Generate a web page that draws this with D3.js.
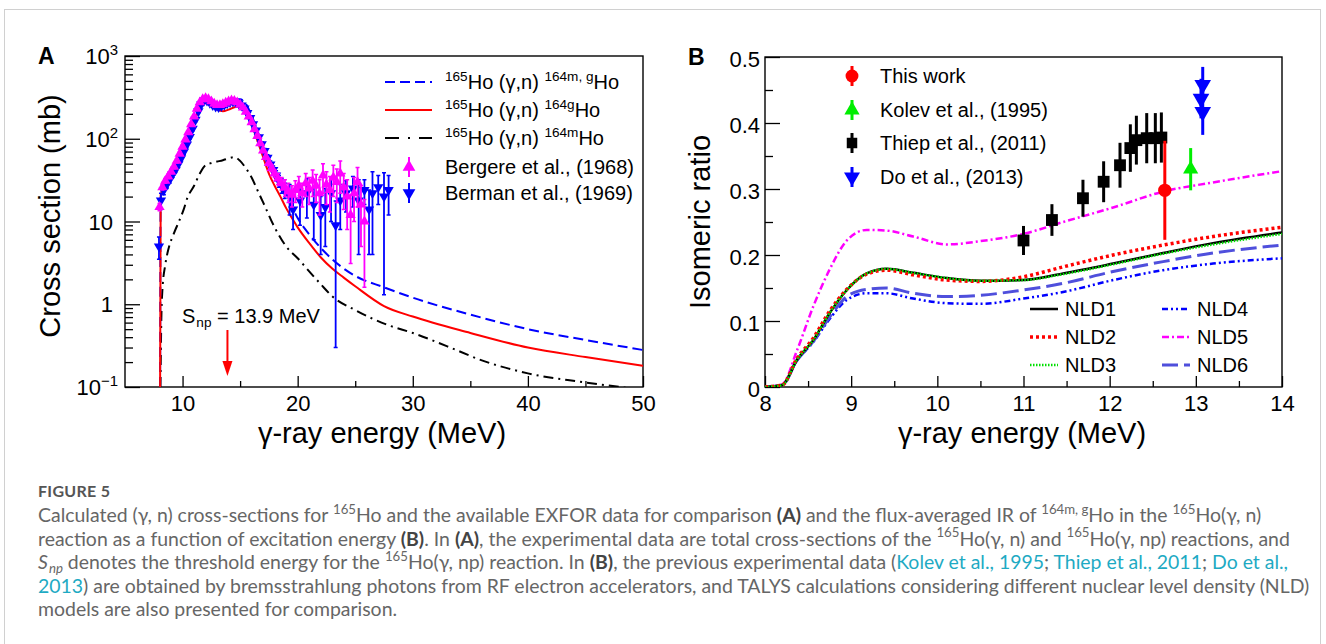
<!DOCTYPE html>
<html>
<head>
<meta charset="utf-8">
<script src="https://cdn.jsdelivr.net/npm/d3@7"></script>
<style>
body { margin: 0; background: #fff; }
svg { display: block; }
</style>
</head>
<body>
<div id="chart"></div>
<script>
// ---------- panel A: calculated cross sections (mb) ----------
var calcE = [8.05, 8.1, 8.5, 9, 9.5, 10, 10.5, 11, 11.5, 12, 12.5, 13, 13.5, 14, 14.5, 15, 15.5, 16, 16.5, 17, 17.5, 18, 18.5, 19, 19.5, 20, 21, 22, 23, 24, 25, 27.5, 30, 35, 40, 45, 50];
var xsTotal = [0.1, 22, 29, 40, 52, 80, 120, 185, 270, 315, 295, 270, 268, 285, 300, 300, 265, 190, 125, 80, 53, 37, 27, 20, 15, 11, 7.0, 4.8, 3.5, 2.7, 2.2, 1.6, 1.2, 0.75, 0.5, 0.37, 0.28];
var xsGround = [0.1, 21, 27, 34, 45, 68, 104, 160, 235, 270, 250, 225, 215, 225, 240, 245, 215, 150, 95, 60, 38, 27, 20, 14.5, 11, 8.5, 5.5, 3.7, 2.7, 2.1, 1.65, 0.95, 0.71, 0.45, 0.30, 0.23, 0.18];
var metaE = [8.08, 8.15, 8.25, 8.5, 8.8, 9.25, 9.75, 10.1, 10.4, 11, 11.5, 12, 12.5, 13, 13.5, 14, 14.5, 15, 15.5, 16, 16.5, 17, 18, 19, 20, 21, 22, 23, 25, 28, 30, 33, 36, 40, 44.5, 48, 50];
var xsMeta = [0.1, 0.6, 1.5, 3.0, 4.8, 7.2, 10.5, 14, 19, 27, 38, 48, 51, 53, 55, 58, 60, 54, 44, 34, 24, 17, 8.5, 5.0, 3.6, 2.5, 1.75, 1.25, 0.85, 0.55, 0.45, 0.31, 0.21, 0.146, 0.116, 0.1, 0.092];

// Bergere et al. (1968)
var bergE = [8.0, 8.25, 8.5, 8.75, 9.0, 9.25, 9.5, 9.75, 10.0, 10.25, 10.5, 10.75, 11.0, 11.25, 11.5, 11.75, 12.0, 12.25, 12.5, 12.75, 13.0, 13.25, 13.5, 13.75, 14.0, 14.25, 14.5, 14.75, 15.0, 15.25, 15.5, 15.75, 16.0, 16.25, 16.5, 16.75, 17.0, 17.25, 17.5, 17.75, 18.0,
  18.3, 18.6, 18.9, 19.2, 19.5, 19.8, 20.1, 20.4, 20.7, 21.0, 21.3, 21.6, 21.9, 22.2, 22.5, 22.8, 23.1, 23.4, 23.7, 24.0, 24.3, 24.6, 24.9, 25.2, 25.5, 25.8];
var bergXS = [15, 26, 31, 35, 40, 46, 54, 66, 80, 98, 120, 150, 185, 230, 275, 300, 310, 300, 283, 265, 255, 255, 262, 272, 282, 290, 287, 275, 258, 238, 212, 185, 158, 130, 108, 88, 72, 60, 51, 44, 38,
  33, 29, 26, 23, 21, 24, 27, 22, 29, 25, 31, 27, 22, 36, 28, 24, 34, 30, 38, 26, 20, 12, 22, 30, 16, 10];
var bergErr = [1.5, 2, 2, 2, 2, 2.5, 3, 3, 4, 4, 5, 6, 7, 8, 9, 10, 10, 10, 10, 9, 9, 9, 9, 10, 10, 10, 10, 10, 9, 9, 8, 8, 7, 6, 5, 5, 4, 4, 4, 4, 4,
  5, 5, 6, 6, 6, 7, 8, 7, 9, 9, 11, 10, 10, 14, 12, 11, 14, 13, 16, 12, 12, 8.9, 12, 15, 11, 8.4];

// Berman et al. (1969)
var bermE = [7.95, 8.125, 8.375, 8.625, 8.875, 9.125, 9.375, 9.625, 9.875, 10.125, 10.375, 10.625, 10.875, 11.125, 11.375, 11.625, 11.875, 12.125, 12.375, 12.625, 12.875, 13.125, 13.375, 13.625, 13.875, 14.125, 14.375, 14.625, 14.875, 15.125, 15.375, 15.625, 15.875, 16.125, 16.375, 16.625, 16.875, 17.125, 17.375, 17.625, 17.875, 18.125, 18.375, 18.625, 18.875,
  19.3, 19.6, 20.2, 20.8, 21.4, 22.0, 22.4, 22.9, 23.3, 23.7, 24.2, 24.8, 25.3, 25.8, 26.2, 26.5, 27.0, 27.5, 27.9];
var bermXS = [5, 18, 24, 28, 32, 37, 42, 49, 58, 70, 85, 105, 132, 170, 215, 260, 290, 290, 272, 255, 245, 242, 248, 258, 268, 278, 282, 278, 268, 252, 232, 205, 178, 150, 126, 104, 86, 71, 59, 49, 42, 36, 31, 27, 24,
  20, 14, 18, 22, 16, 12, 15, 22, 9, 18, 22, 25, 18, 24, 14, 22, 26, 20, 24];
var bermErr = [1.5, 4, 3, 3, 3, 3, 3, 4, 4, 5, 5, 6, 7, 9, 10, 12, 13, 13, 12, 11, 11, 11, 11, 11, 12, 12, 12, 12, 12, 11, 11, 10, 9, 8, 7, 6, 6, 5, 5, 5, 5, 5, 5, 5, 5,
  8, 6, 9, 11, 10, 8, 10, 12, 8.7, 10, 9, 10, 14, 8, 10, 18, 10, 18.7, 12];

var xTicksA = [10, 20, 30, 40, 50];
var xMinorA = [15, 25, 35, 45];
var yTicksA = [0.1, 1, 10, 100, 1000];
var yTickTextA = [["10", "\u22121"], ["1", ""], ["10", ""], ["10", "2"], ["10", "3"]];

// ---------- panel B: isomeric ratio ----------
var nldE = [8.0, 8.2, 8.37, 8.56, 8.75, 8.95, 9.18, 9.41, 9.72, 10.11, 10.5, 11.0, 11.46, 12.04, 12.62, 13.2, 14.0];
var nld1 = [0, 0.003, 0.041, 0.071, 0.112, 0.147, 0.172, 0.179, 0.173, 0.165, 0.161, 0.162, 0.172, 0.187, 0.203, 0.218, 0.234];
var nld2 = [0, 0.003, 0.043, 0.074, 0.115, 0.148, 0.171, 0.177, 0.170, 0.162, 0.160, 0.167, 0.182, 0.200, 0.215, 0.228, 0.242];
var nld3 = [0, 0.003, 0.041, 0.071, 0.112, 0.147, 0.172, 0.179, 0.173, 0.165, 0.161, 0.162, 0.171, 0.186, 0.202, 0.216, 0.232];
var nld4 = [0, 0.003, 0.040, 0.068, 0.103, 0.132, 0.142, 0.142, 0.134, 0.127, 0.126, 0.134, 0.144, 0.162, 0.177, 0.187, 0.195];
var nld5 = [0, 0.004, 0.055, 0.122, 0.178, 0.222, 0.238, 0.237, 0.228, 0.216, 0.221, 0.232, 0.250, 0.272, 0.296, 0.310, 0.327];
var nld6 = [0, 0.003, 0.040, 0.069, 0.106, 0.137, 0.148, 0.150, 0.142, 0.137, 0.139, 0.147, 0.157, 0.175, 0.190, 0.203, 0.215];

var thisE = [12.64], thisR = [0.298], thisErr = [0.075];
var kolevE = [12.94], kolevR = [0.33], kolevErr = [0.032];
var thiepE = [11.0, 11.33, 11.69, 11.93, 12.12, 12.24, 12.31, 12.43, 12.53, 12.6];
var thiepR = [0.222, 0.253, 0.286, 0.311, 0.336, 0.362, 0.374, 0.377, 0.377, 0.378];
var thiepErr = [0.022, 0.024, 0.028, 0.031, 0.034, 0.036, 0.037, 0.038, 0.038, 0.038];
var doE = [13.08, 13.06, 13.08], doR = [0.458, 0.437, 0.417], doErr = [0.027, 0.03, 0.035];

var xTicksB = [8, 9, 10, 11, 12, 13, 14];
var xMinorB = [8.5, 9.5, 10.5, 11.5, 12.5, 13.5];
var yTicksB = [0, 0.1, 0.2, 0.3, 0.4, 0.5];
var yMinorB = [0.05, 0.15, 0.25, 0.35, 0.45];

var FONT = "'Liberation Sans', Arial, Helvetica, sans-serif";
var W = 1326, H = 644;

var svg = d3.select("#chart").append("svg")
    .attr("width", W)
    .attr("height", H)
    .style("font-family", FONT);

svg.append("rect").attr("width", W).attr("height", H).attr("fill", "#fff");
svg.append("rect")
    .attr("x", 4.5).attr("y", 9.5).attr("width", 1316).attr("height", 700)
    .attr("fill", "none").attr("stroke", "#d0d0d0");

// text with super/subscripts
function rich(parent, x, y, fs, segs) {
    var t = parent.append("text").attr("x", x).attr("y", y).attr("font-size", fs);
    var off = 0;
    segs.forEach(function(s) {
        if (typeof s === "string") s = {t: s};
        var target = s.sup ? -fs * 0.42 : (s.sub ? fs * 0.2 : 0);
        var ts = t.append("tspan").attr("dy", target - off).text(s.t);
        off = target;
        if (s.sup || s.sub) ts.attr("font-size", fs * 0.68);
        if (s.sub) ts.attr("dx", 1);
        if (s.b) ts.attr("font-weight", "bold");
        if (s.i) ts.attr("font-style", "italic");
        if (s.fill) ts.attr("fill", s.fill);
    });
    return t;
}

function styleAxis(g, fs) {
    g.select(".domain").remove();
    g.attr("font-family", FONT).attr("font-size", fs);
    g.selectAll("line").attr("stroke", "#000").attr("stroke-width", 1.3);
    g.selectAll("text").attr("fill", "#000");
}

// ================= PANEL A =================
var A = {left: 125, top: 56, right: 643, bottom: 387};
var xA = d3.scaleLinear().domain([5, 50]).range([A.left, A.right]);
var yA = d3.scaleLog().domain([0.1, 1000]).range([A.bottom, A.top]);
var gA = svg.append("g");

gA.append("clipPath").attr("id", "clipA").append("rect")
    .attr("x", A.left).attr("y", A.top).attr("width", A.right - A.left).attr("height", A.bottom - A.top);

gA.append("g").attr("transform", "translate(0," + A.bottom + ")")
    .call(d3.axisBottom(xA).tickValues(xTicksA).tickSize(-11).tickPadding(8).tickFormat(d3.format("d")))
    .call(function(g) { styleAxis(g, 22); });
gA.append("g").attr("transform", "translate(0," + A.bottom + ")")
    .call(d3.axisBottom(xA).tickValues(xMinorA).tickSize(-6).tickFormat(""))
    .call(function(g) { styleAxis(g, 22); });

var minorLog = [];
[0.1, 1, 10, 100].forEach(function(dec) {
    [2, 3, 4, 5, 6, 7, 8, 9].forEach(function(m) { minorLog.push(dec * m); });
});
gA.append("g").attr("transform", "translate(" + A.left + ",0)")
    .call(d3.axisLeft(yA).tickValues(yTicksA).tickSize(-15).tickFormat(""))
    .call(function(g) { styleAxis(g, 22); });
gA.append("g").attr("transform", "translate(" + A.left + ",0)")
    .call(d3.axisLeft(yA).tickValues(minorLog).tickSize(-8).tickFormat(""))
    .call(function(g) { styleAxis(g, 22); });

yTicksA.forEach(function(v, i) {
    var lab = yTickTextA[i];
    var segs = [lab[0]];
    if (lab[1]) segs.push({t: lab[1], sup: true});
    rich(gA, lab[1] ? 118 : 113, yA(v) + 8, 22, segs).attr("text-anchor", "end");
});

gA.append("rect")
    .attr("x", A.left).attr("y", A.top).attr("width", A.right - A.left).attr("height", A.bottom - A.top)
    .attr("fill", "none").attr("stroke", "#000").attr("stroke-width", 1.4);

var plotA = gA.append("g").attr("clip-path", "url(#clipA)");
var lineA = d3.line()
    .x(function(d) { return xA(d[0]); })
    .y(function(d) { return yA(Math.max(d[1], 0.05)); })
    .curve(d3.curveMonotoneX);

plotA.append("path").datum(d3.zip(metaE, xsMeta)).attr("d", lineA)
    .attr("fill", "none").attr("stroke", "#000").attr("stroke-width", 2).attr("stroke-dasharray", "10,5,2,5");
plotA.append("path").datum(d3.zip(calcE, xsTotal)).attr("d", lineA)
    .attr("fill", "none").attr("stroke", "#0000ff").attr("stroke-width", 2).attr("stroke-dasharray", "10,5");
plotA.append("path").datum(d3.zip(calcE, xsGround)).attr("d", lineA)
    .attr("fill", "none").attr("stroke", "#ff0000").attr("stroke-width", 2);

var triUp = d3.symbol().type(d3.symbolTriangle).size(46);

function expA(E, V, Err, color, down) {
    var data = d3.zip(E, V, Err);
    var g = plotA.append("g");
    g.selectAll(".eb").data(data).enter().append("line")
        .attr("x1", function(d) { return xA(d[0]); })
        .attr("x2", function(d) { return xA(d[0]); })
        .attr("y1", function(d) { return yA(d[1] + d[2]); })
        .attr("y2", function(d) { return yA(Math.max(d[1] - d[2], 0.05)); })
        .attr("stroke", color).attr("stroke-width", 1.8);
    g.selectAll(".cap").data(data).enter().append("path")
        .attr("d", function(d) {
            var x = xA(d[0]), y1 = yA(d[1] + d[2]), y2 = yA(Math.max(d[1] - d[2], 0.05));
            return "M" + (x - 2) + "," + y1 + "H" + (x + 2) + "M" + (x - 2) + "," + y2 + "H" + (x + 2);
        })
        .attr("stroke", color).attr("stroke-width", 1.5);
    g.selectAll(".mk").data(data).enter().append("path")
        .attr("d", triUp)
        .attr("transform", function(d) {
            return "translate(" + xA(d[0]) + "," + yA(d[1]) + ")" + (down ? " rotate(180)" : "");
        })
        .attr("fill", color);
}
expA(bermE, bermXS, bermErr, "#0000ff", true);
expA(bergE, bergXS, bergErr, "#ff00ff", false);

// legend A
var legA = gA.append("g");
var legAy = [82, 110, 138, 167, 193];
var legAstyles = [["#0000ff", "10,5"], ["#ff0000", null], ["#000", "14,9,2,9"]];
var legAtext = [
    [{t: "165", sup: true}, "Ho (\u03b3,n) ", {t: "164m, g", sup: true}, "Ho"],
    [{t: "165", sup: true}, "Ho (\u03b3,n) ", {t: "164g", sup: true}, "Ho"],
    [{t: "165", sup: true}, "Ho (\u03b3,n) ", {t: "164m", sup: true}, "Ho"],
    ["Bergere et al., (1968)"],
    ["Berman et al., (1969)"]
];
legAstyles.forEach(function(s, i) {
    legA.append("line").attr("x1", 385).attr("x2", 432).attr("y1", legAy[i]).attr("y2", legAy[i])
        .attr("stroke", s[0]).attr("stroke-width", 2).attr("stroke-dasharray", s[1]);
});
[["#ff00ff", false], ["#0000ff", true]].forEach(function(s, i) {
    var y = legAy[3 + i];
    legA.append("line").attr("x1", 409).attr("x2", 409).attr("y1", y - 10).attr("y2", y + 10)
        .attr("stroke", s[0]).attr("stroke-width", 2);
    legA.append("path").attr("d", d3.symbol().type(d3.symbolTriangle).size(70))
        .attr("transform", "translate(409," + y + ")" + (s[1] ? " rotate(180)" : ""))
        .attr("fill", s[0]);
});
legAtext.forEach(function(segs, i) {
    rich(legA, 445, legAy[i] + 7, 20, segs).attr("fill", "#000");
});

// S_np annotation
rich(gA, 182, 323, 20, ["S", {t: "np", sub: true}, " = 13.9 MeV"]);
gA.append("line").attr("x1", xA(13.9)).attr("x2", xA(13.9)).attr("y1", 330).attr("y2", 364)
    .attr("stroke", "#ff0000").attr("stroke-width", 2);
gA.append("path")
    .attr("d", "M" + (xA(13.9) - 5) + ",361L" + (xA(13.9) + 5) + ",361L" + xA(13.9) + ",376Z")
    .attr("fill", "#ff0000");

// titles A
gA.append("text").attr("x", 382).attr("y", 443).attr("text-anchor", "middle")
    .attr("font-size", 29).text("\u03b3-ray energy (MeV)");
gA.append("text").attr("transform", "translate(60,216) rotate(-90)").attr("text-anchor", "middle")
    .attr("font-size", 29).text("Cross section (mb)");
gA.append("text").attr("x", 38).attr("y", 64).attr("font-size", 23).attr("font-weight", "bold").text("A");

// ================= PANEL B =================
var B = {left: 765, top: 57, right: 1282, bottom: 387};
var xB = d3.scaleLinear().domain([8, 14]).range([B.left, B.right]);
var yB = d3.scaleLinear().domain([0, 0.5]).range([B.bottom, B.top]);
var gB = svg.append("g");

gB.append("clipPath").attr("id", "clipB").append("rect")
    .attr("x", B.left).attr("y", B.top).attr("width", B.right - B.left).attr("height", B.bottom - B.top);

gB.append("g").attr("transform", "translate(0," + B.bottom + ")")
    .call(d3.axisBottom(xB).tickValues(xTicksB).tickSize(-11).tickPadding(8).tickFormat(d3.format("d")))
    .call(function(g) { styleAxis(g, 22); });
gB.append("g").attr("transform", "translate(0," + B.bottom + ")")
    .call(d3.axisBottom(xB).tickValues(xMinorB).tickSize(-6).tickFormat(""))
    .call(function(g) { styleAxis(g, 22); });
gB.append("g").attr("transform", "translate(" + B.left + ",0)")
    .call(d3.axisLeft(yB).tickValues(yTicksB).tickSize(-15).tickPadding(5)
        .tickFormat(function(d) { return d === 0 ? "0" : d3.format(".1f")(d); }))
    .call(function(g) { styleAxis(g, 22); g.selectAll("text").attr("dy", "0.42em"); });
gB.append("g").attr("transform", "translate(" + B.left + ",0)")
    .call(d3.axisLeft(yB).tickValues(yMinorB).tickSize(-8).tickFormat(""))
    .call(function(g) { styleAxis(g, 22); });

gB.append("rect")
    .attr("x", B.left).attr("y", B.top).attr("width", B.right - B.left).attr("height", B.bottom - B.top)
    .attr("fill", "none").attr("stroke", "#000").attr("stroke-width", 1.4);

var plotB = gB.append("g").attr("clip-path", "url(#clipB)");
var lineB = d3.line()
    .x(function(d) { return xB(d[0]); })
    .y(function(d) { return yB(d[1]); })
    .curve(d3.curveMonotoneX);

var nldStyles = [
    {name: "NLD1", data: nld1, color: "#000", w: 2.5, dash: null},
    {name: "NLD2", data: nld2, color: "#ff0000", w: 3.5, dash: "3,3"},
    {name: "NLD3", data: nld3, color: "#00e000", w: 2.5, dash: "1.5,1.5"},
    {name: "NLD4", data: nld4, color: "#0000ff", w: 2.5, dash: "6,3,2,3,2,3"},
    {name: "NLD5", data: nld5, color: "#ff00ff", w: 2.5, dash: "7,3,2,3"},
    {name: "NLD6", data: nld6, color: "#4f4fdc", w: 3, dash: "16,6"}
];
[3, 5, 4, 0, 1, 2].forEach(function(i) {
    var s = nldStyles[i];
    plotB.append("path").datum(d3.zip(nldE, s.data)).attr("d", lineB)
        .attr("fill", "none").attr("stroke", s.color).attr("stroke-width", s.w)
        .attr("stroke-dasharray", s.dash);
});

function expB(E, V, Err, color, sym, size, rot) {
    var data = d3.zip(E, V, Err);
    var g = gB.append("g");
    g.selectAll(".eb").data(data).enter().append("line")
        .attr("x1", function(d) { return xB(d[0]); })
        .attr("x2", function(d) { return xB(d[0]); })
        .attr("y1", function(d) { return yB(d[1] + d[2]); })
        .attr("y2", function(d) { return yB(d[1] - d[2]); })
        .attr("stroke", color).attr("stroke-width", 3);
    g.selectAll(".mk").data(data).enter().append("path")
        .attr("d", d3.symbol().type(sym).size(size))
        .attr("transform", function(d) {
            return "translate(" + xB(d[0]) + "," + yB(d[1]) + ")" + (rot ? " rotate(180)" : "");
        })
        .attr("fill", color);
}
expB(thiepE, thiepR, thiepErr, "#000", d3.symbolSquare, 140, false);
expB(doE, doR, doErr, "#0000ff", d3.symbolTriangle, 120, true);
expB(kolevE, kolevR, kolevErr, "#00ee00", d3.symbolTriangle, 100, false);
expB(thisE, thisR, thisErr, "#ff0000", d3.symbolCircle, 140, false);

// legend B (data)
var legB = gB.append("g");
var legBy = [76, 110, 143, 177];
var legBitems = [
    ["This work", "#ff0000", d3.symbolCircle, 130, false],
    ["Kolev et al., (1995)", "#00ee00", d3.symbolTriangle, 100, false],
    ["Thiep et al., (2011)", "#000", d3.symbolSquare, 110, false],
    ["Do et al., (2013)", "#0000ff", d3.symbolTriangle, 110, true]
];
legBitems.forEach(function(it, i) {
    var y = legBy[i];
    legB.append("line").attr("x1", 852).attr("x2", 852).attr("y1", y - 10).attr("y2", y + 10)
        .attr("stroke", it[1]).attr("stroke-width", 3);
    legB.append("path").attr("d", d3.symbol().type(it[2]).size(it[3]))
        .attr("transform", "translate(852," + y + ")" + (it[4] ? " rotate(180)" : ""))
        .attr("fill", it[1]);
    legB.append("text").attr("x", 880).attr("y", y + 7).attr("font-size", 20).text(it[0]);
});

// legend B (NLD)
var nldLegX = [1030, 1030, 1030, 1162, 1162, 1162];
var nldLegY = [309, 337, 365, 309, 337, 365];
nldStyles.forEach(function(s, i) {
    legB.append("line").attr("x1", nldLegX[i]).attr("x2", nldLegX[i] + 28)
        .attr("y1", nldLegY[i]).attr("y2", nldLegY[i])
        .attr("stroke", s.color).attr("stroke-width", s.w).attr("stroke-dasharray", s.dash);
    legB.append("text").attr("x", nldLegX[i] + 35).attr("y", nldLegY[i] + 7)
        .attr("font-size", 20).text(s.name);
});

// titles B
gB.append("text").attr("x", 1022).attr("y", 443).attr("text-anchor", "middle")
    .attr("font-size", 29).text("\u03b3-ray energy (MeV)");
gB.append("text").attr("transform", "translate(710,222) rotate(-90)").attr("text-anchor", "middle")
    .attr("font-size", 29).text("Isomeric ratio");
gB.append("text").attr("x", 688).attr("y", 65).attr("font-size", 23).attr("font-weight", "bold").text("B");

// ================= CAPTION =================
var cap = svg.append("g")
    .style("font-family", "Lato, 'Open Sans', sans-serif")
    .attr("fill", "#666");
var LINK = "#1eaac3";
cap.append("text").attr("x", 38).attr("y", 497).attr("font-size", 16).attr("font-weight", "bold")
    .attr("fill", "#555").attr("letter-spacing", 0.3).text("FIGURE 5");

var capLines = [
    ["Calculated (\u03b3, n) cross-sections for ", {t: "165", sup: true}, "Ho and the available EXFOR data for comparison ", {t: "(A)", b: true, fill: "#444"}, " and the flux-averaged IR of ", {t: "164m, g", sup: true}, "Ho in the ", {t: "165", sup: true}, "Ho(\u03b3, n)"],
    ["reaction as a function of excitation energy ", {t: "(B)", b: true, fill: "#444"}, ". In ", {t: "(A)", b: true, fill: "#444"}, ", the experimental data are total cross-sections of the ", {t: "165", sup: true}, "Ho(\u03b3, n) and ", {t: "165", sup: true}, "Ho(\u03b3, np) reactions, and"],
    [{t: "S", i: true}, {t: "np", sub: true, i: true}, " denotes the threshold energy for the ", {t: "165", sup: true}, "Ho(\u03b3, np) reaction. In ", {t: "(B)", b: true, fill: "#444"}, ", the previous experimental data (", {t: "Kolev et al., 1995", fill: LINK}, "; ", {t: "Thiep et al., 2011", fill: LINK}, "; ", {t: "Do et al.,", fill: LINK}],
    [{t: "2013", fill: LINK}, ") are obtained by bremsstrahlung photons from RF electron accelerators, and TALYS calculations considering different nuclear level density (NLD)"],
    ["models are also presented for comparison."]
];
var capY = [522, 545.5, 569, 592.5, 616];
var capNodes = capLines.map(function(segs, i) { return rich(cap, 38, capY[i], 17, segs); });

// size the caption font so the longest line ends where it does in the figure (x ~ 1310)
var natural = capNodes[3].node().getComputedTextLength();
var capFs = Math.max(15, Math.min(20, 17 * 1272 / natural));
cap.selectAll("text").each(function() {
    var t = d3.select(this);
    if (t.text() === "FIGURE 5") return;
    t.attr("font-size", capFs);
    t.selectAll("tspan").each(function() {
        var s = d3.select(this);
        if (s.attr("font-size")) s.attr("font-size", capFs * 0.68);
        var dy = +s.attr("dy");
        if (dy) s.attr("dy", dy * capFs / 17);
    });
});
</script>
</body>
</html>
